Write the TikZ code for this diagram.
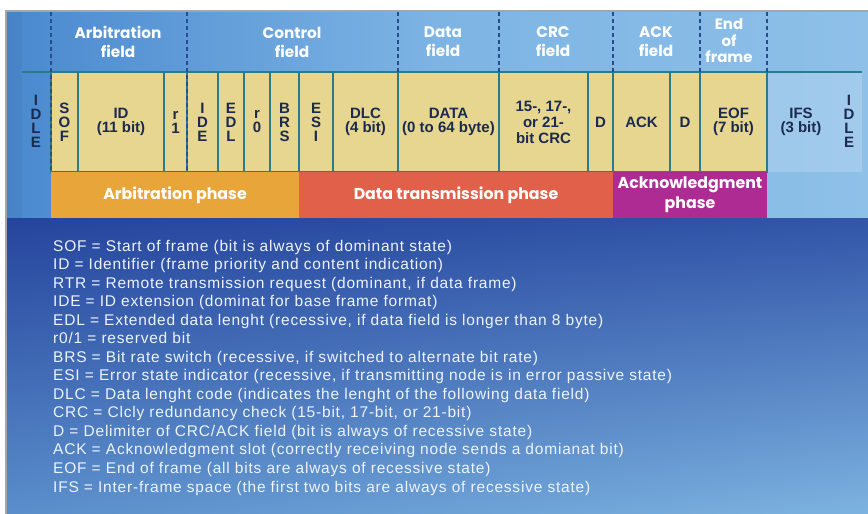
\documentclass[tikz,border=0pt]{standalone}
\usepackage{fontspec}
\setmainfont{Liberation Sans}
\newfontfamily\headfont{Poppins}
\newfontfamily\legfont{Liberation Sans}[LetterSpace=5.1]
\usetikzlibrary{calc,shadings}
\definecolor{cellfill}{HTML}{E6D68F}
\definecolor{celltext}{HTML}{1B2A4E}
\definecolor{cellline}{HTML}{2B7B8E}
\definecolor{dashcol}{HTML}{2A4C8C}
\definecolor{arbcol}{HTML}{E8A53A}
\definecolor{datcol}{HTML}{E0604A}
\definecolor{ackcol}{HTML}{AD2B93}
\definecolor{hdleft}{HTML}{4A89CF}
\definecolor{hdmid}{HTML}{7DB4E4}
\definecolor{hdright}{HTML}{8EC0E8}
\definecolor{lowUL}{HTML}{25449D}
\definecolor{lowUR}{HTML}{3155A8}
\definecolor{lowLL}{HTML}{5A8ECB}
\definecolor{lowLR}{HTML}{7DB3E0}
\definecolor{legtext}{HTML}{EEF3FC}
\newcommand\cellfont{\fontsize{15}{14}\selectfont\bfseries}
\begin{document}
\begin{tikzpicture}[x=1pt,y=-1pt,
  cellbox/.style={draw=cellline, line width=1.4pt, fill=cellfill, anchor=north west,
    minimum height=100pt, inner sep=0pt, outer sep=0pt, text=celltext, font=\cellfont, align=center},
  plainlbl/.style={text=celltext, font=\cellfont, align=center, inner sep=0pt},
  headlbl/.style={text=white, font=\headfont\bfseries\fontsize{15.3}{19}\selectfont, align=center, inner sep=0pt},
  phasebar/.style={anchor=north west, minimum height=46pt, inner sep=0pt, outer sep=0pt, text=white,
    font=\headfont\bfseries\fontsize{15.8}{19.5}\selectfont, align=center},
  fieldsep/.style={draw=dashcol, line width=1.2pt, dash pattern=on 4pt off 3pt},
  legline/.style={anchor=base west, inner sep=0pt, text=legtext, font=\legfont\fontsize{15.5}{16}\selectfont}]
\useasboundingbox (0,0) rectangle (868,514);
\fill[white] (0,0) rectangle (868,514);
% frame
\fill[gray!70] (5,10) rectangle (868,514);
% upper background
\shade[left color=hdleft, right color=hdright, middle color=hdmid] (7,12) rectangle (868,218);
\fill[hdleft!90!black, opacity=0.35] (7,12) rectangle (22,218);
\fill[white, opacity=0.18] (767,72) rectangle (862,172);
% lower background
\shade[upper left=lowUL, upper right=lowUR, lower left=lowLL, lower right=lowLR] (7,218) rectangle (868,514);
% teal horizontal line
\draw[cellline, line width=1.6pt] (22,72) -- (862,72);
% cells
\node[cellbox, minimum width=27pt] (sof) at (51,72) {S\\O\\F};
\node[cellbox, minimum width=86pt] (id) at (78,72) {ID\\(11 bit)};
\node[cellbox, minimum width=23pt] (r1) at (164,72) {r\\1};
\node[cellbox, minimum width=31pt] (ide) at (187,72) {I\\D\\E};
\node[cellbox, minimum width=26pt] (edl) at (218,72) {E\\D\\L};
\node[cellbox, minimum width=26pt] (r0) at (244,72) {r\\0};
\node[cellbox, minimum width=29pt] (brs) at (270,72) {B\\R\\S};
\node[cellbox, minimum width=34pt] (esi) at (299,72) {E\\S\\I};
\node[cellbox, minimum width=65pt] (dlc) at (333,72) {DLC\\(4 bit)};
\node[cellbox, minimum width=101pt] (data) at (398,72) {DATA\\(0 to 64 byte)};
\node[cellbox, minimum width=89pt] (crc) at (499,72) {15-, 17-,\\[2pt]or 21-\\[2pt]bit CRC};
\node[cellbox, minimum width=25pt] (d1) at (588,72) {D};
\node[cellbox, minimum width=57pt] (ack) at (613,72) {ACK};
\node[cellbox, minimum width=30pt] (d2) at (670,72) {D};
\node[cellbox, minimum width=67pt] (eof) at (700,72) {EOF\\(7 bit)};
\node[plainlbl] (idleL) at (36,121) {I\\D\\L\\E};
\node[plainlbl] (ifs) at (801,122) {IFS\\(3 bit)};
\node[plainlbl] (idleR) at (849,121) {I\\D\\L\\E};
% phase bars
\node[phasebar, fill=arbcol, minimum width=248pt] (parb) at (51,172) {Arbitration phase};
\node[phasebar, fill=datcol, minimum width=314pt] (pdat) at (299,172) {Data transmission phase};
\node[phasebar, fill=ackcol, minimum width=154pt] (pack) at (613,172) {Acknowledgment\\phase};
% field separators
\foreach \xx in {51,187} \draw[fieldsep] (\xx,12) -- (\xx,172);
\foreach \xx in {398,499,613,700,767} \draw[fieldsep] (\xx,12) -- (\xx,72);
% header labels
\node[headlbl] (harb) at (118,42) {Arbitration\\field};
\node[headlbl] (hctl) at (292,42) {Control\\field};
\node[headlbl] (hdat) at (443,42) {Data\\field};
\node[headlbl] (hcrc) at (553,42) {CRC\\field};
\node[headlbl] (hack) at (656,42) {ACK\\field};
\node[headlbl, font=\headfont\bfseries\fontsize{15}{16.5}\selectfont] (heof) at (729,41) {End\\of\\frame};
% legend
\foreach \t [count=\i] in {
 {SOF = Start of frame (bit is always of dominant state)},
 {ID = Identifier (frame priority and content indication)},
 {RTR = Remote transmission request (dominant, if data frame)},
 {IDE = ID extension (dominat for base frame format)},
 {EDL = Extended data lenght (recessive, if data field is longer than 8 byte)},
 {r0/1 = reserved bit},
 {BRS = Bit rate switch (recessive, if switched to alternate bit rate)},
 {ESI = Error state indicator (recessive, if transmitting node is in error passive state)},
 {DLC = Data lenght code (indicates the lenght of the following data field)},
 {CRC = Clcly redundancy check (15-bit, 17-bit, or 21-bit)},
 {D = Delimiter of CRC/ACK field (bit is always of recessive state)},
 {ACK = Acknowledgment slot (correctly receiving node sends a domianat bit)},
 {EOF = End of frame (all bits are always of recessive state)},
 {IFS = Inter-frame space (the first two bits are always of recessive state)}}
 \node[legline] (leg\i) at (53,{251+(\i-1)*18.54}) {\t};
\end{tikzpicture}
\end{document}
